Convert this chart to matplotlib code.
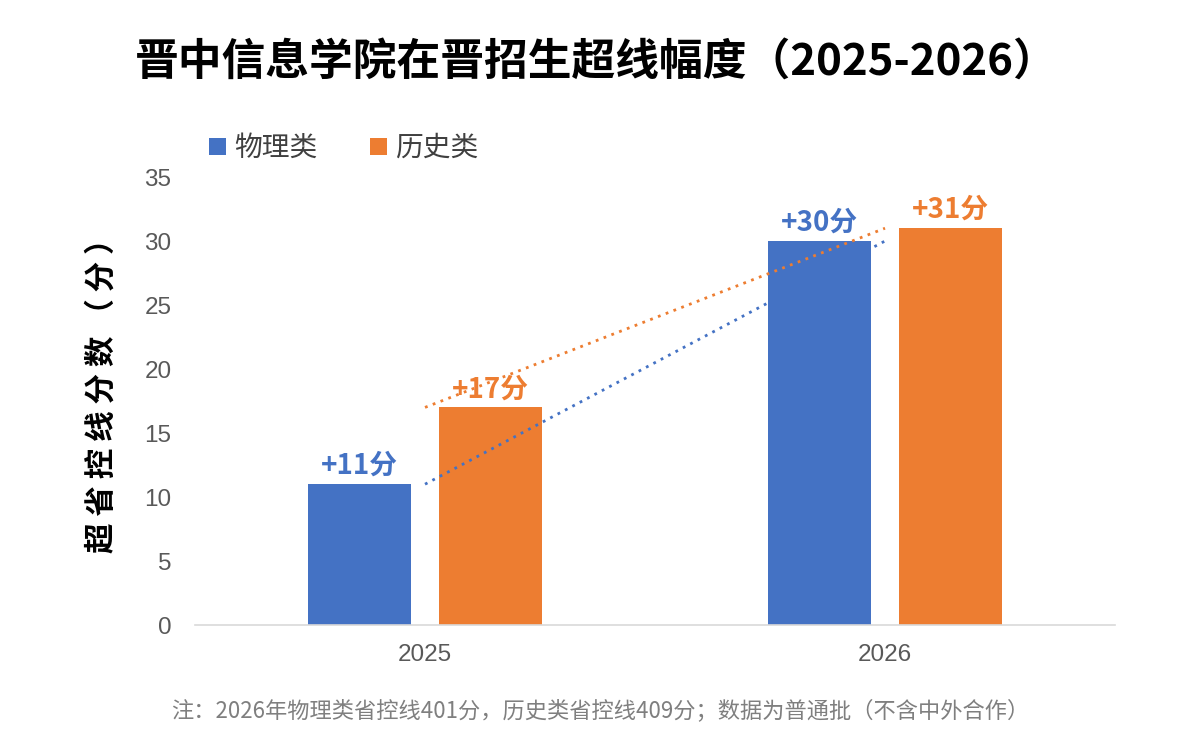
import matplotlib
matplotlib.use('Agg')
import matplotlib.pyplot as plt
import numpy as np

plt.rcParams['font.family'] = ['Noto Sans CJK SC', 'DejaVu Sans']

years = ['2025', '2026']
series_names = ['物理类', '历史类']
physics = [11, 30]
history = [17, 31]
labels_physics = ['+11分', '+30分']
labels_history = ['+17分', '+31分']

title = '晋中信息学院在晋招生超线幅度（2025-2026）'
ylabel = '超 省 控 线 分 数 （ 分 ）'
note = '注：2026年物理类省控线401分，历史类省控线409分；数据为普通批（不含中外合作）'

BLUE = '#4472C4'
ORANGE = '#ED7D31'

fig = plt.figure(figsize=(12, 7.4), dpi=100)
ax = fig.add_axes([0.1625, 0.1554, 0.7667, 0.6054])

x = np.arange(len(years))
w = 0.224
off = 0.142
b1 = ax.bar(x - off, physics, w, color=BLUE, label=series_names[0], zorder=2)
b2 = ax.bar(x + off, history, w, color=ORANGE, label=series_names[1], zorder=2)

# dotted trend lines between category centres
ax.plot(x, physics, linestyle=(0, (1, 2)), color=BLUE, lw=2, zorder=3)
ax.plot(x, history, linestyle=(0, (1, 2)), color=ORANGE, lw=2, zorder=3)

for bars, labs, c in [(b1, labels_physics, BLUE), (b2, labels_history, ORANGE)]:
    for rect, lab in zip(bars, labs):
        ax.annotate(lab, (rect.get_x() + rect.get_width() / 2, rect.get_height()),
                    xytext=(0, 3), textcoords='offset points', ha='center', va='bottom',
                    fontsize=20, fontweight='bold', color=c, zorder=4)

ax.set_xlim(-0.5, 1.5)
ax.set_ylim(0, 35)
ax.set_yticks(range(0, 36, 5))
ax.set_xticks(x)
ax.set_xticklabels(years)
ax.tick_params(axis='both', length=0, labelsize=17.5, labelcolor='#595959')
ax.tick_params(axis='y', pad=17)
ax.tick_params(axis='x', pad=14)
for lab in ax.get_xticklabels() + ax.get_yticklabels():
    lab.set_family(['Liberation Sans', 'DejaVu Sans'])
for s in ['top', 'right', 'left']:
    ax.spines[s].set_visible(False)
ax.spines['bottom'].set_color('#D9D9D9')
ax.spines['bottom'].set_linewidth(1.2)

fig.text(0.497, 0.916, title, ha='center', va='center', fontsize=31.5, fontweight='bold', color='black')
fig.text(0.085, 0.475, ylabel, ha='center', va='center', rotation=90, fontsize=22,
         fontweight='bold', color='black')
fig.text(0.5, 0.04, note, ha='center', va='center', fontsize=16, color='#7F7F7F')

ax.legend(loc='lower left', bbox_to_anchor=(0.0, 1.0), ncol=2, frameon=False,
          fontsize=20, handlelength=0.6, handleheight=0.6, handletextpad=0.3,
          columnspacing=1.9, labelcolor='#404040', borderaxespad=0.1)

fig.savefig('out.png', dpi=100)
